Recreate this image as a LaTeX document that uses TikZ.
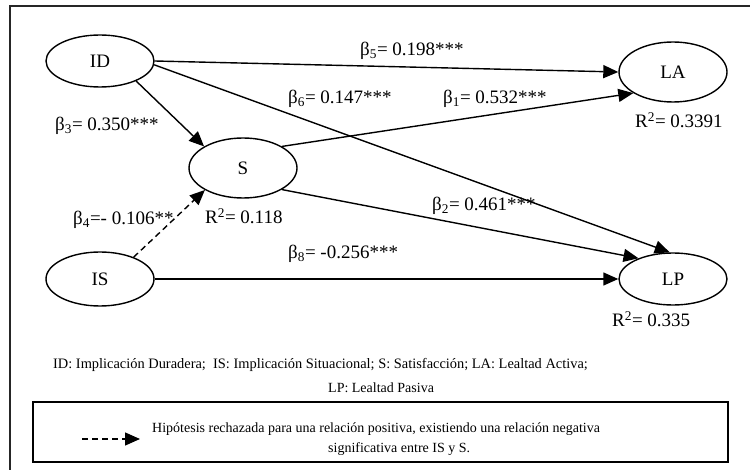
\documentclass[tikz,border=0pt]{standalone}
\usepackage{fontspec}
\setmainfont{Liberation Serif}
\usetikzlibrary{arrows.meta,shapes.geometric}
\begin{document}
\begin{tikzpicture}[x=1pt,y=-1pt,
  lat/.style={ellipse,draw,line width=1.4pt,minimum width=108pt,inner sep=0pt,font=\fontsize{19}{22}\selectfont},
  arr/.style={line width=1.4pt,-{Triangle[length=15pt,width=13pt]}},
  dsh/.style={dash pattern=on 6pt off 4pt},
  lbl/.style={font=\fontsize{19}{22}\selectfont,anchor=base west,inner sep=0pt},
  note/.style={font=\fontsize{14}{16}\selectfont,anchor=base west,inner sep=0pt}]
\useasboundingbox (0,0) rectangle (750,470);
\draw[line width=2pt,black!85] (753,6) -- (10,6) -- (10,473);

\node[lat,minimum height=52pt] (ID) at (100,61) {ID};
\node[lat,minimum height=60pt] (S) at (243,168) {S};
\node[lat,minimum height=60pt] (LA) at (673,72) {LA};
\node[lat,minimum height=54pt] (IS) at (100,279) {IS};
\node[lat,minimum height=52pt] (LP) at (673,279) {LP};

\draw[arr] (ID.east) -- (LA.west);
\draw[arr] (ID.-4) -- (LP.97);
\draw[arr] (ID.-29) -- (S.151);
\draw[arr] (S.29) -- (LA.-152);
\draw[arr] (S.-29) -- (LP.149);
\draw[arr,dsh] (IS.33) -- (S.-150);
\draw[arr] (IS.east) -- (LP.west);

\node[lbl] (b5) at (360,56) {β\textsubscript{5}= 0.198***};
\node[lbl] (b6) at (288,104) {β\textsubscript{6}= 0.147***};
\node[lbl] (b3) at (55,131) {β\textsubscript{3}= 0.350***};
\node[lbl] (b1) at (443,104) {β\textsubscript{1}= 0.532***};
\node[lbl] (b2) at (432,211) {β\textsubscript{2}= 0.461***};
\node[lbl] (b4) at (73,225) {β\textsubscript{4}=- 0.106**};
\node[lbl] (rs) at (205,224) {R\textsuperscript{2}= 0.118};
\node[lbl] (b8) at (288,259) {β\textsubscript{8}= -0.256***};
\node[lbl] (rla) at (635,128) {R\textsuperscript{2}= 0.3391};
\node[lbl] (rlp) at (612,327) {R\textsuperscript{2}= 0.335};

\node[note,font=\fontsize{14.4}{16}\selectfont] (n1) at (53,369) {ID: Implicación Duradera;\ \ IS: Implicación Situacional; S: Satisfacción; LA: Lealtad Activa;};
\node[note] (n2) at (328,392) {LP: Lealtad Pasiva};

\node[draw,line width=1.5pt,minimum width=695pt,minimum height=60pt,inner sep=0pt] (legend) at (380.5,432) {};
\coordinate (d1) at (82,439);
\coordinate (d2) at (140,439);
\draw[arr,dsh] (d1) -- (d2);
\node[note] (l1) at (152,432) {Hipótesis rechazada para una relación positiva, existiendo una relación negativa};
\node[note] (l2) at (328,452) {significativa entre IS y S.};
\end{tikzpicture}
\end{document}
